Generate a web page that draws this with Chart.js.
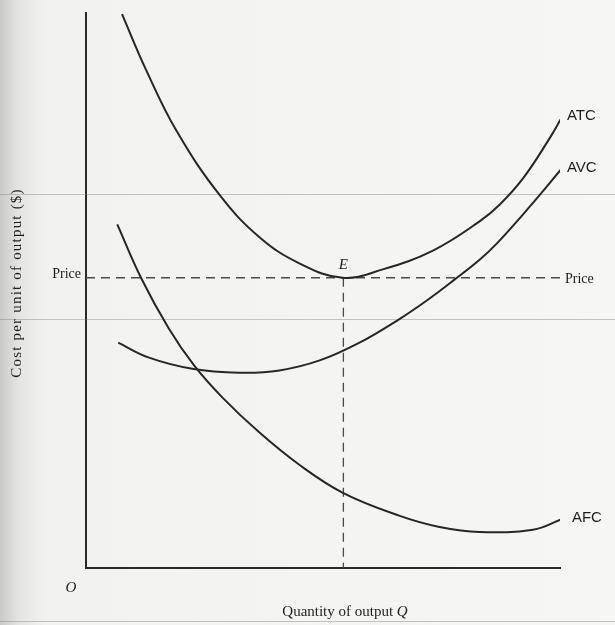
<!DOCTYPE html>
<html>
<head>
<meta charset="utf-8">
<script src="https://cdn.jsdelivr.net/npm/chart.js@4.4.1/dist/chart.umd.min.js"></script>
<style>
  html, body { margin: 0; padding: 0; }
  body {
    width: 615px; height: 625px; overflow: hidden;
    background: linear-gradient(to right, #c9c9c7 0px, #e4e4e2 18px, #f2f2f0 45px, #f6f6f4 100%);
  }
  #wrap { position: relative; width: 615px; height: 625px; }
</style>
</head>
<body>
<div id="wrap"><canvas id="costChart" width="615" height="625"></canvas></div>
<script>
// Quantity (x) and cost per unit (y) (0-100 scale)
const atcX = [7.6, 12.7, 19.0, 28.1, 36.6, 45.0, 54.1, 62.6, 73.2, 83.1, 87.3, 92.2, 97.5, 100.4];
const atcY = [99.8, 89.7, 78.9, 67.3, 59.6, 54.9, 52.3, 53.8, 57.2, 62.5, 65.5, 70.2, 77.0, 81.2];

const avcX = [6.8, 13.3, 22.4, 32.3, 40.8, 49.3, 57.7, 66.2, 71.9, 77.8, 83.1, 86.7, 93.7, 100.4];
const avcY = [40.6, 37.9, 35.9, 35.2, 35.6, 37.4, 40.6, 44.9, 48.2, 52.0, 55.6, 58.5, 65.2, 72.0];

const afcX = [6.6, 11.6, 17.5, 22.8, 28.8, 36.6, 45.0, 54.3, 66.2, 74.6, 83.1, 94.3, 100.4];
const afcY = [61.9, 52.3, 43.1, 36.5, 30.7, 24.4, 18.6, 13.5, 9.4, 7.4, 6.5, 6.9, 8.8];

const curveLabels = ['ATC', 'AVC', 'AFC'];

// equilibrium point E (quantity, price)
const eQuantity = 54.3;
const priceLevel = 52.3;

// faint scan show-through lines on the page
const scanLines = [67.3, 44.8, -9.5];

function toPoints(xs, ys) {
    return xs.map((v, i) => ({ x: v, y: ys[i] }));
}

const curveStyle = {
    borderColor: '#262626',
    borderWidth: 2,
    pointRadius: 0,
    tension: 0.4,
    fill: false
};

const dashStyle = {
    borderColor: '#4a4a4a',
    borderWidth: 1.3,
    borderDash: [9, 6],
    pointRadius: 0,
    tension: 0,
    fill: false
};

const labelsPlugin = {
    id: 'textLabels',
    beforeDatasetsDraw(chart) {
        const { ctx, scales: { y } } = chart;
        ctx.save();
        ctx.strokeStyle = 'rgba(120,120,120,0.4)';
        ctx.lineWidth = 1;
        scanLines.forEach(v => {
            const py = Math.round(y.getPixelForValue(v)) + 0.5;
            ctx.beginPath();
            ctx.moveTo(0, py);
            ctx.lineTo(chart.width, py);
            ctx.stroke();
        });
        ctx.restore();
    },
    afterDatasetsDraw(chart) {
        const { ctx, scales: { x, y } } = chart;
        ctx.save();
        ctx.fillStyle = '#1e1e1e';

        // curve names at the end of each curve
        ctx.font = '15px "Liberation Sans", Arial, sans-serif';
        ctx.textAlign = 'left';
        ctx.textBaseline = 'middle';
        [0, 1, 2].forEach(i => {
            const data = chart.data.datasets[i].data;
            const last = data[data.length - 1];
            const px = x.getPixelForValue(last.x);
            const py = y.getPixelForValue(last.y);
            ctx.fillText(curveLabels[i], px + (i === 2 ? 10 : 5), py - 1);
        });

        // Price on both sides
        const priceY = y.getPixelForValue(priceLevel);
        ctx.font = '14px "Liberation Serif", "Times New Roman", serif';
        ctx.textAlign = 'right';
        ctx.fillText('Price', x.left - 5, priceY - 3);
        ctx.textAlign = 'left';
        ctx.fillText('Price', x.right + 5, priceY + 2);

        // E
        ctx.font = 'italic 15px "Liberation Serif", "Times New Roman", serif';
        ctx.textAlign = 'center';
        ctx.fillText('E', x.getPixelForValue(eQuantity), priceY - 13);

        // origin
        ctx.fillText('O', x.left - 15, y.bottom + 20);

        // x title
        ctx.font = '15px "Liberation Serif", "Times New Roman", serif';
        const part1 = 'Quantity of output ';
        const w1 = ctx.measureText(part1).width;
        ctx.font = 'italic 15px "Liberation Serif", "Times New Roman", serif';
        const w2 = ctx.measureText('Q').width;
        const startX = 345 - (w1 + w2) / 2;
        ctx.textAlign = 'left';
        ctx.font = '15px "Liberation Serif", "Times New Roman", serif';
        ctx.fillText(part1, startX, 612);
        ctx.font = 'italic 15px "Liberation Serif", "Times New Roman", serif';
        ctx.fillText('Q', startX + w1, 612);

        // y title
        ctx.translate(17, 283);
        ctx.rotate(-Math.PI / 2);
        ctx.font = '15px "Liberation Serif", "Times New Roman", serif';
        ctx.letterSpacing = '1.2px';
        ctx.textAlign = 'center';
        ctx.fillText('Cost per unit of output ($)', 0, 0);
        ctx.restore();
    }
};

const ctx = document.getElementById('costChart').getContext('2d');
new Chart(ctx, {
    type: 'line',
    data: {
        datasets: [
            Object.assign({ label: 'ATC', data: toPoints(atcX, atcY) }, curveStyle),
            Object.assign({ label: 'AVC', data: toPoints(avcX, avcY) }, curveStyle),
            Object.assign({ label: 'AFC', data: toPoints(afcX, afcY) }, curveStyle),
            Object.assign({ label: 'Price', data: [{ x: 0, y: priceLevel }, { x: 100, y: priceLevel }] }, dashStyle),
            Object.assign({ label: 'Q at E', data: [{ x: eQuantity, y: priceLevel }, { x: eQuantity, y: 0 }] }, dashStyle)
        ]
    },
    options: {
        responsive: false,
        animation: false,
        layout: { padding: { left: 86, top: 13, right: 55, bottom: 57 } },
        plugins: {
            legend: { display: false },
            tooltip: { enabled: false }
        },
        scales: {
            x: {
                type: 'linear',
                min: 0,
                max: 100,
                ticks: { display: false },
                grid: { display: false, drawTicks: false },
                border: { display: true, color: '#2a2a2a', width: 2 }
            },
            y: {
                type: 'linear',
                min: 0,
                max: 100,
                ticks: { display: false },
                grid: { display: false, drawTicks: false },
                border: { display: true, color: '#2a2a2a', width: 2 }
            }
        }
    },
    plugins: [labelsPlugin]
});
</script>
</body>
</html>
